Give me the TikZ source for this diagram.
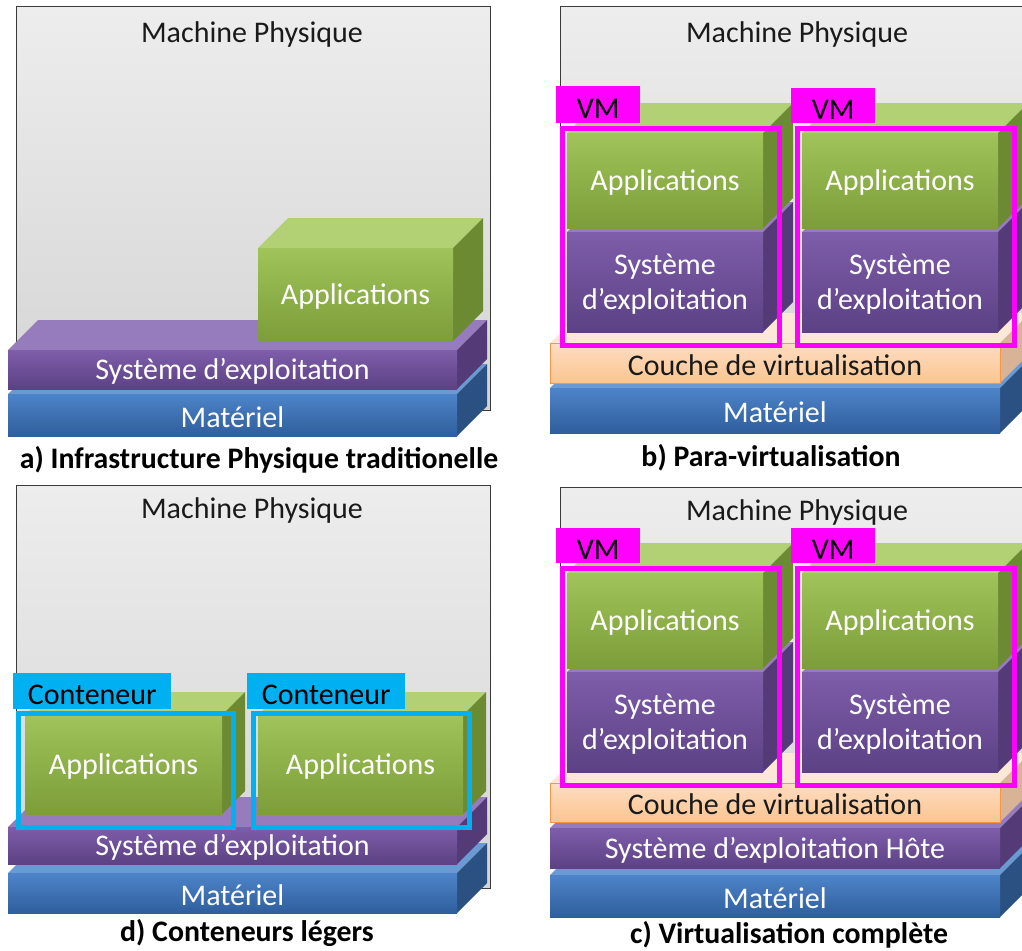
\documentclass[tikz,border=0pt]{standalone}
\usepackage{fontspec}
\setmainfont{Carlito}
\usetikzlibrary{calc}
\newcommand{\lblfont}{\fontsize{30}{35}\selectfont}
\newcommand{\capfont}{\fontsize{29.8}{34}\selectfont\bfseries}
\definecolor{hwA}{HTML}{4D84C9}\definecolor{hwB}{HTML}{2F5E9C}
\definecolor{hwTop}{HTML}{6A9AD4}\definecolor{hwSide}{HTML}{2B5082}
\definecolor{osA}{HTML}{7E5DAA}\definecolor{osB}{HTML}{5C4184}
\definecolor{osTop}{HTML}{977CBD}\definecolor{osSide}{HTML}{553A78}
\definecolor{apA}{HTML}{A0C35A}\definecolor{apB}{HTML}{7C9D39}
\definecolor{apTop}{HTML}{B2D174}\definecolor{apSide}{HTML}{6C8A32}
\definecolor{vtA}{HTML}{FDDDC2}\definecolor{vtB}{HTML}{FBC590}
\definecolor{vtTop}{HTML}{FDE8D6}\definecolor{vtSide}{HTML}{D8B396}\definecolor{vtLine}{HTML}{F79646}
\definecolor{machA}{HTML}{EDEDED}\definecolor{machB}{HTML}{D4D4D4}\definecolor{machLine}{HTML}{3A3A3A}
\definecolor{vmpink}{HTML}{FF00FF}\definecolor{ctblue}{HTML}{00B0F0}
\definecolor{txt}{HTML}{1A1A1A}
\tikzset{
  x=1pt, y=-1pt,
  front/.style={inner sep=0pt, outer sep=0pt},
  lbl/.style={align=center, text=white, font=\lblfont, inner sep=0pt, yshift=-2pt},
  hwF/.style={top color=hwA, bottom color=hwB}, hwT/.style={fill=hwTop}, hwS/.style={fill=hwSide}, hwL/.style={},
  osF/.style={top color=osA, bottom color=osB}, osT/.style={fill=osTop}, osS/.style={fill=osSide}, osL/.style={},
  apF/.style={top color=apA, bottom color=apB}, apT/.style={fill=apTop}, apS/.style={fill=apSide}, apL/.style={},
  vtF/.style={top color=vtA, bottom color=vtB, draw=vtLine, line width=1pt},
  vtT/.style={fill=vtTop}, vtS/.style={fill=vtSide}, vtL/.style={text=txt},
  machine/.style={draw=machLine, line width=1pt, top color=machA, bottom color=machB, inner sep=0pt, outer sep=0pt, anchor=north west},
  mtitle/.style={font=\lblfont, text=txt},
  caption/.style={font=\capfont, text=black},
  vmframe/.style={draw=vmpink, line width=5pt, inner sep=0pt, anchor=north west},
  vmtab/.style={fill=vmpink, inner sep=0pt, anchor=north west},
  ctframe/.style={draw=ctblue, line width=5pt, inner sep=0pt, anchor=north west},
  cttab/.style={fill=ctblue, inner sep=0pt, anchor=north west},
  tabtext/.style={text=black, font=\lblfont, inner sep=0pt, yshift=-4pt},
}
% #1 name #2 x1 #3 y1 #4 x2 #5 y2 #6 kind #7 depth #8 label
\newcommand{\slab}[8]{%
  \pgfmathsetmacro\slw{#4-#2}%
  \pgfmathsetmacro\slh{#5-#3}%
  \fill[#6T] (#2,#3) -- ++(#7,-#7) -- ++(\slw,0) -- ++(-#7,#7) -- cycle;
  \fill[#6S] (#4,#3) -- ++(#7,-#7) -- ++(0,\slh) -- ++(-#7,#7) -- cycle;
  \node[front,#6F,minimum width=\slw pt,minimum height=\slh pt,anchor=north west] (#1) at (#2,#3) {};
  \node[lbl,#6L] (#1-l) at (#1.center) {#8};
}
\begin{document}
\begin{tikzpicture}
\useasboundingbox (0,0) rectangle (1022,950);
\clip (0,0) rectangle (1022,950);
\fill[white] (0,0) rectangle (1022,950);

% ---------- a) ----------
\node[machine, minimum width=474pt, minimum height=403pt] (a-m) at (16,7) {};
\node[mtitle] (a-mt) at (252,35) {Machine Physique};
\slab{a-hw}{8}{394}{457}{436}{hw}{30}{Matériel}
\slab{a-os}{8}{350}{457}{389}{os}{30}{Système d’exploitation}
\slab{a-app}{258}{248}{453}{341}{ap}{30}{Applications}
\node[caption] (a-cap) at (259,460) {a) Infrastructure Physique traditionelle};

% ---------- b) ----------
\node[machine, minimum width=480pt, minimum height=393pt] (b-m) at (560,7) {};
\node[mtitle] (b-mt) at (797,35) {Machine Physique};
\slab{b-hw}{550}{388}{1000}{433}{hw}{30}{Matériel}
\slab{b-vt}{550}{343}{1000}{383}{vt}{30}{Couche de virtualisation}
\slab{b-os1}{567}{232}{763}{332}{os}{30}{Système\\d’exploitation}
\slab{b-app1}{567}{133}{763}{228}{ap}{30}{Applications}
\slab{b-os2}{802}{232}{998}{332}{os}{30}{Système\\d’exploitation}
\slab{b-app2}{802}{133}{998}{228}{ap}{30}{Applications}
\node[vmframe, minimum width=217pt, minimum height=217pt] (b-vm1) at (559.5,125.5) {};
\node[vmframe, minimum width=217pt, minimum height=217pt] (b-vm2) at (794.5,125.5) {};
\node[vmtab, minimum width=84pt, minimum height=37pt] (b-tab1) at (556,86) {};
\node[vmtab, minimum width=84pt, minimum height=35pt] (b-tab2) at (791,88) {};
\node[tabtext] (b-tab1-t) at (b-tab1.center) {VM};
\node[tabtext] (b-tab2-t) at (b-tab2.center) {VM};
\node[caption] (b-cap) at (771,458) {b) Para-virtualisation};

% ---------- d) ----------
\node[machine, minimum width=474pt, minimum height=403pt] (d-m) at (16,485) {};
\node[mtitle] (d-mt) at (252,510) {Machine Physique};
\slab{d-hw}{8}{873}{457}{913}{hw}{30}{Matériel}
\slab{d-os}{8}{827}{457}{864}{os}{30}{Système d’exploitation}
\slab{d-app1}{25}{715}{222}{814}{ap}{23}{Applications}
\slab{d-app2}{258}{715}{463}{814}{ap}{23}{Applications}
\node[ctframe, minimum width=215pt, minimum height=114pt] (d-ct1) at (15.5,710.5) {};
\node[ctframe, minimum width=216pt, minimum height=114pt] (d-ct2) at (250.5,710.5) {};
\node[cttab, minimum width=158pt, minimum height=36pt] (d-tab1) at (13,673) {};
\node[cttab, minimum width=158pt, minimum height=36pt] (d-tab2) at (247,673) {};
\node[tabtext] (d-tab1-t) at (d-tab1.center) {Conteneur};
\node[tabtext] (d-tab2-t) at (d-tab2.center) {Conteneur};
\node[caption] (d-cap) at (247,933) {d) Conteneurs légers};

% ---------- c) ----------
\node[machine, minimum width=480pt, minimum height=393pt] (c-m) at (560,487) {};
\node[mtitle] (c-mt) at (797,512) {Machine Physique};
\slab{c-hw}{550}{875}{1000}{917}{hw}{30}{Matériel}
\slab{c-host}{550}{828}{1000}{868}{os}{30}{Système d’exploitation Hôte}
\slab{c-vt}{550}{783}{1000}{822}{vt}{30}{Couche de virtualisation}
\slab{c-os1}{567}{672}{763}{772}{os}{30}{Système\\d’exploitation}
\slab{c-app1}{567}{573}{763}{668}{ap}{30}{Applications}
\slab{c-os2}{802}{672}{998}{772}{os}{30}{Système\\d’exploitation}
\slab{c-app2}{802}{573}{998}{668}{ap}{30}{Applications}
\node[vmframe, minimum width=217pt, minimum height=217pt] (c-vm1) at (559.5,565.5) {};
\node[vmframe, minimum width=217pt, minimum height=217pt] (c-vm2) at (794.5,565.5) {};
\node[vmtab, minimum width=84pt, minimum height=35pt] (c-tab1) at (556,528) {};
\node[vmtab, minimum width=84pt, minimum height=35pt] (c-tab2) at (791,528) {};
\node[tabtext] (c-tab1-t) at (c-tab1.center) {VM};
\node[tabtext] (c-tab2-t) at (c-tab2.center) {VM};
\node[caption] (c-cap) at (789,935) {c) Virtualisation complète};
\end{tikzpicture}
\end{document}
